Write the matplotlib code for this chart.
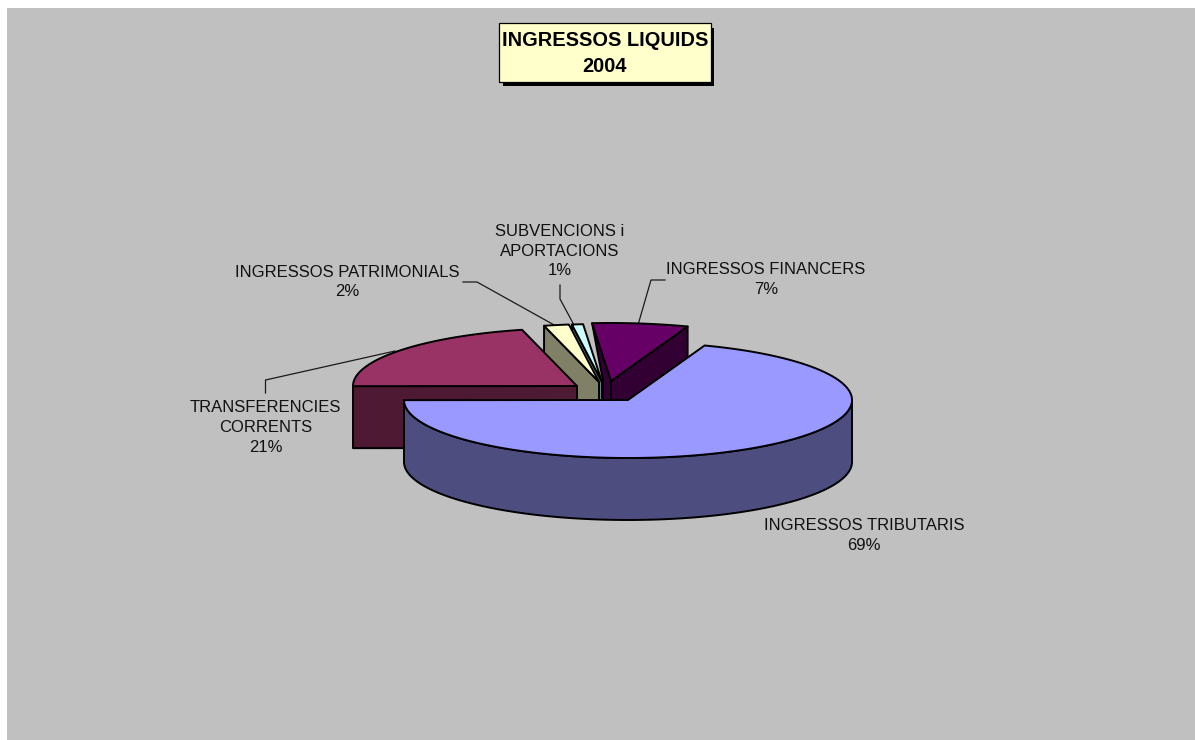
import numpy as np
import matplotlib
matplotlib.use("Agg")
import matplotlib.pyplot as plt
from matplotlib.patches import Rectangle

plt.rcParams['font.family'] = ['Liberation Sans', 'DejaVu Sans']

# pie data (percent), clockwise from the first angle
categories = ["INGRESSOS TRIBUTARIS", "TRANSFERENCIES\nCORRENTS", "INGRESSOS PATRIMONIALS",
              "SUBVENCIONS i\nAPORTACIONS", "INGRESSOS FINANCERS"]
values = [69.4, 21.1, 1.8, 0.8, 6.9]
first_angle = 20.0

top_colors = ["#9999FF", "#993366", "#FFFFCC", "#CCFFFF", "#660066"]
side_colors = ["#4D4D80", "#4D1933", "#808066", "#668080", "#330033"]

# exploded centre of every slice, in pixels
centers = [(628, 400), (577, 386), (599, 382), (602, 382), (611, 381)]
RX, RY, DEPTH = 224, 58, 62
LW = 1.4


def point(c, ang):
    a = np.radians(ang)
    return c[0] + RX * np.sin(a), c[1] - RY * np.cos(a)


def down(p):
    return p[0], p[1] + DEPTH


def main():
    fig = plt.figure(figsize=(11.95, 7.40), dpi=100, facecolor="white")
    ax = fig.add_axes([0, 0, 1, 1])
    ax.set_xlim(0, 1195)
    ax.set_ylim(740, 0)
    ax.axis("off")
    ax.add_patch(Rectangle((7, 8), 1188, 732, facecolor="#C0C0C0", edgecolor="none"))

    spans = np.array(values) / sum(values) * 360
    starts = first_angle + np.concatenate(([0], np.cumsum(spans)[:-1]))
    ends = starts + spans

    # leader lines go under the slices
    leaders = [([265.5, 265.5, 395], [393, 380, 351]),
               ([463, 477, 556], [282, 282, 326]),
               ([560, 560, 574], [285, 299, 325]),
               ([665, 651, 638], [280, 280, 325])]
    for xs, ys in leaders:
        ax.plot(xs, ys, color="#1a1a1a", lw=0.9, zorder=1)

    # back to front
    for i in [4, 3, 2, 1, 0]:
        c, a0, a1 = centers[i], starts[i], ends[i]
        z = 5 - i + 1
        edge = dict(edgecolor="black", linewidth=LW, joinstyle="round", zorder=z)

        # start cut face
        if i == 4:
            # this one only shows as a thin strip next to the apex
            p = point(c, a0)
            q = (c[0] - 8, c[1])
            ax.fill([p[0], c[0], c[0], q[0], q[0]],
                    [p[1], c[1], c[1] + DEPTH, q[1] + DEPTH, q[1]],
                    facecolor=side_colors[i], **edge)
        elif i != 0:
            p = point(c, a0)
            d0, d1 = down(p), down(c)
            ax.fill([p[0], c[0], d1[0], d0[0]], [p[1], c[1], d1[1], d0[1]],
                    facecolor=side_colors[i], **edge)

        # end cut face of the last slice
        if i == 4:
            p = point(c, a1)
            d0, d1 = down(p), down(c)
            ax.fill([c[0], p[0], d0[0], d1[0]], [c[1], p[1], d0[1], d1[1]],
                    facecolor=side_colors[i], **edge)

        # outer wall, only the front half of the ellipse
        if i == 0:
            arc = np.linspace(90, a1, 120)
            xs, ys = point(c, arc)
            ax.fill(np.r_[xs, xs[::-1]], np.r_[ys, ys[::-1] + DEPTH],
                    facecolor=side_colors[i], **edge)

        # top face
        arc = np.linspace(a0, a1, 200)
        xs, ys = point(c, arc)
        ax.fill(np.r_[c[0], xs], np.r_[c[1], ys], facecolor=top_colors[i], **edge)

    # labels
    label_pos = [(864, 535.5), (265.5, 427.5), (347, 282), (560, 251), (766, 279.5)]
    for name, v, (x, y) in zip(categories, values, label_pos):
        ax.text(x, y, f"{name}\n{v:.0f}%", ha="center", va="center", fontsize=12,
                linespacing=1.4, color="#111111", zorder=20)

    # title box with its hard shadow
    ax.add_patch(Rectangle((503, 28), 211, 58, facecolor="black", edgecolor="none", zorder=20))
    ax.add_patch(Rectangle((499, 23), 212, 59, facecolor="#FFFFCC", edgecolor="black",
                           linewidth=0.9, zorder=21))
    ax.text(605, 53.5, "INGRESSOS LIQUIDS\n2004", ha="center", va="center", fontsize=14.4,
            fontweight="bold", linespacing=1.42, zorder=22)

    fig.savefig("out.png", dpi=100, facecolor="white")


if __name__ == "__main__":
    main()
